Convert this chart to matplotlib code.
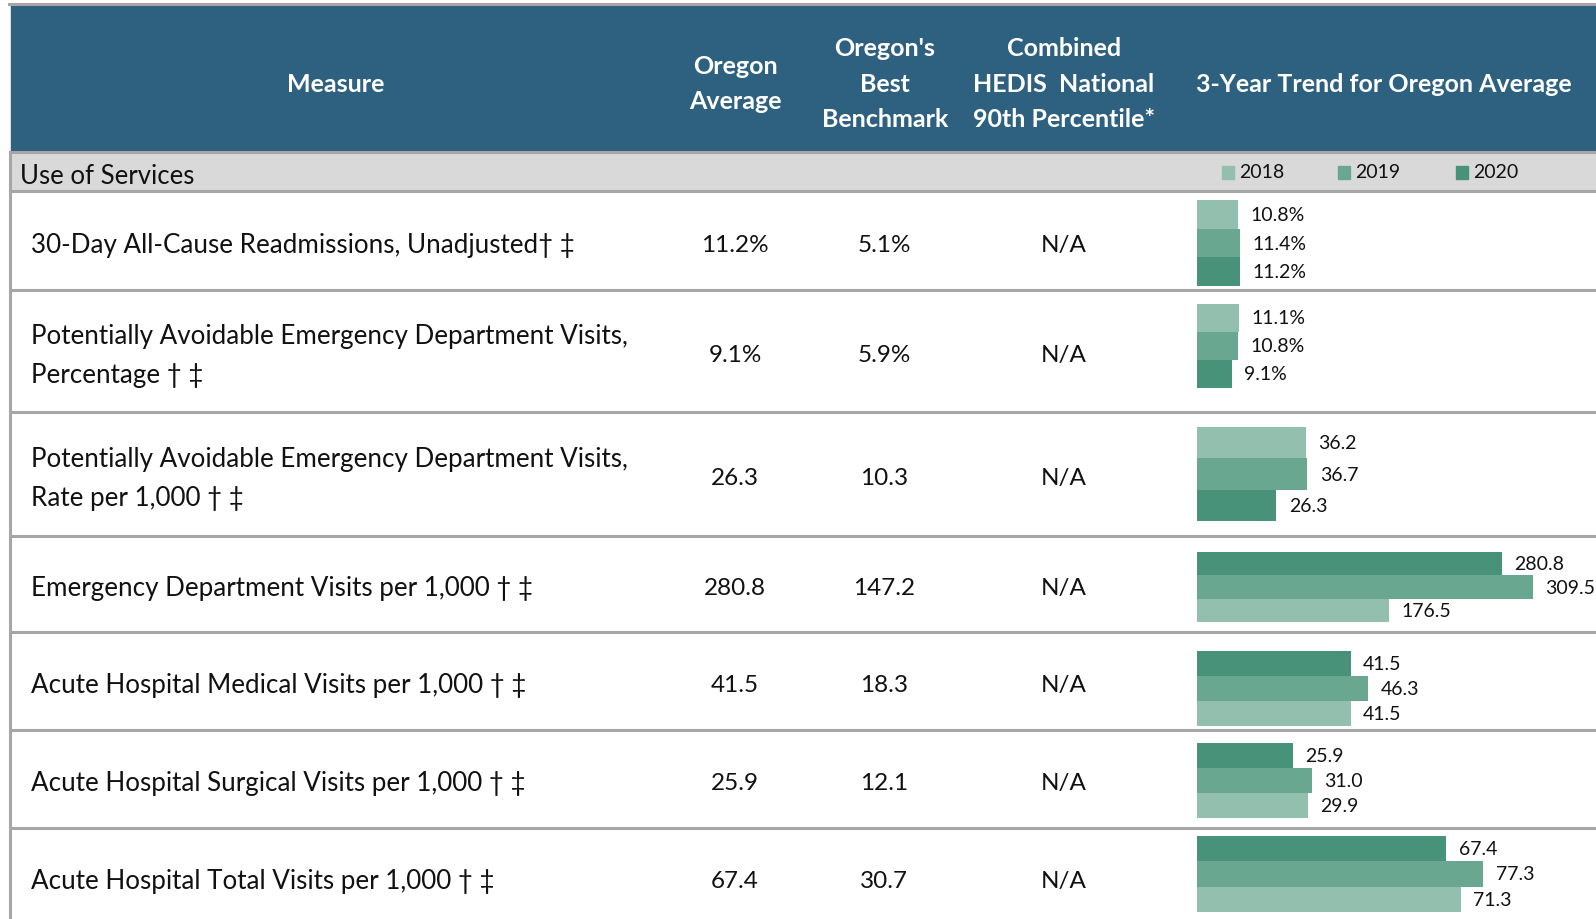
import matplotlib.pyplot as plt
from matplotlib.patches import Rectangle

W, H = 1596, 920

# ---- data ----
measures = [
    "30-Day All-Cause Readmissions, Unadjusted\u2020 \u2021",
    "Potentially Avoidable Emergency Department Visits,\nPercentage \u2020 \u2021",
    "Potentially Avoidable Emergency Department Visits,\nRate per 1,000 \u2020 \u2021",
    "Emergency Department Visits per 1,000 \u2020 \u2021",
    "Acute Hospital Medical Visits per 1,000 \u2020 \u2021",
    "Acute Hospital Surgical Visits per 1,000 \u2020 \u2021",
    "Acute Hospital Total Visits per 1,000 \u2020 \u2021",
]
oregon_avg = ["11.2%", "9.1%", "26.3", "280.8", "41.5", "25.9", "67.4"]
best_benchmark = ["5.1%", "5.9%", "10.3", "147.2", "18.3", "12.1", "30.7"]
hedis_90th = ["N/A", "N/A", "N/A", "N/A", "N/A", "N/A", "N/A"]
years = ["2018", "2019", "2020"]
trend_2018 = [10.8, 11.1, 36.2, 176.5, 41.5, 29.9, 71.3]
trend_2019 = [11.4, 10.8, 36.7, 309.5, 46.3, 31.0, 77.3]
trend_2020 = [11.2, 9.1, 26.3, 280.8, 41.5, 25.9, 67.4]
is_percent = [True, True, False, False, False, False, False]
newest_on_top = [False, False, False, True, True, True, True]

# ---- layout (pixels) ----
row_edges = [192, 291, 413, 537, 633, 731, 829, 940]
bar_spans = [(201, 287), (305, 389), (428, 522), (553, 623),
             (652, 727), (744, 819), (837, 913)]
px_per_unit = [3.8, 3.8, 3.01, 1.086, 3.7, 3.7, 3.7]
bar_left = 1197
col_avg, col_best, col_hedis = 735, 884, 1064

BLUE = "#2E6180"
GRAY_BG = "#D9D9D9"
LINE = "#A6A6A6"
TXT = "#111111"
year_colors = ["#93BFAE", "#69A791", "#489279"]

plt.rcParams['font.family'] = ['Lato', 'DejaVu Sans']

fig = plt.figure(figsize=(W / 100, H / 100), dpi=100)
ax = fig.add_axes([0, 0, 1, 1])
ax.set_xlim(0, W)
ax.set_ylim(H, 0)
ax.axis("off")

# header band
ax.add_patch(Rectangle((11, 6), W - 11, 147, color=BLUE, zorder=1))
ax.plot([9, W], [5, 5], color=LINE, lw=2.2, zorder=2)
hdr = dict(color="white", fontsize=18, fontweight="bold", ha="center",
           va="center", linespacing=1.64)
ax.text(336, 85, "Measure", **hdr)
ax.text(735, 84, "Oregon\nAverage", **hdr)
ax.text(885, 84, "Oregon's\nBest\nBenchmark", **hdr)
ax.text(1064, 84, "Combined\nHEDIS  National\n90th Percentile*", **hdr)
ax.text(1384, 84, "3-Year Trend for Oregon Average", **hdr)

# section row
ax.add_patch(Rectangle((10, 153), W - 10, 39, color=GRAY_BG, zorder=1))
ax.text(20, 177, "Use of Services", fontsize=18.5, va="center", color=TXT)
for x, yr, c in zip([1222, 1338, 1456], years, year_colors):
    ax.add_patch(Rectangle((x, 167), 12, 13, color=c, zorder=3))
    ax.text(x + 17, 173, yr, fontsize=14, va="center", color=TXT)

# grid lines
for y in [153] + row_edges[:-1]:
    ax.plot([10, W], [y, y], color=LINE, lw=2.2, zorder=2)
ax.plot([10, 10], [153, H], color=LINE, lw=2.2, zorder=2)

# body text
for i, m in enumerate(measures):
    yc = (row_edges[i] + row_edges[i + 1]) / 2 + 4 if i < 6 else 882
    ax.text(31, yc, m, fontsize=18.7, va="center", ha="left",
            color=TXT, linespacing=1.66)
    for x, v in [(col_avg, oregon_avg[i]), (col_best, best_benchmark[i]),
                 (col_hedis, hedis_90th[i])]:
        ax.text(x, yc, v, fontsize=17.5, va="center", ha="center", color=TXT)

# trend bars, one small axes per row
for i in range(len(measures)):
    y0, y1 = bar_spans[i]
    bax = fig.add_axes([bar_left / W, 1 - y1 / H, (W - bar_left) / W, (y1 - y0) / H])
    vals = [trend_2018[i], trend_2019[i], trend_2020[i]]
    order = [2, 1, 0] if newest_on_top[i] else [0, 1, 2]
    for pos, k in enumerate(order):
        bax.barh(pos, vals[k], height=1.0, color=year_colors[k], edgecolor="none")
        lab = f"{vals[k]:.1f}%" if is_percent[i] else f"{vals[k]:.1f}"
        bax.annotate(lab, (vals[k], pos), xytext=(9, 0), textcoords="offset points",
                     va="center", ha="left", fontsize=14, color=TXT,
                     annotation_clip=False)
    bax.set_ylim(2.5, -0.5)
    bax.set_xlim(0, (W - bar_left) / px_per_unit[i])
    bax.axis("off")

fig.savefig("out.png", dpi=100)
